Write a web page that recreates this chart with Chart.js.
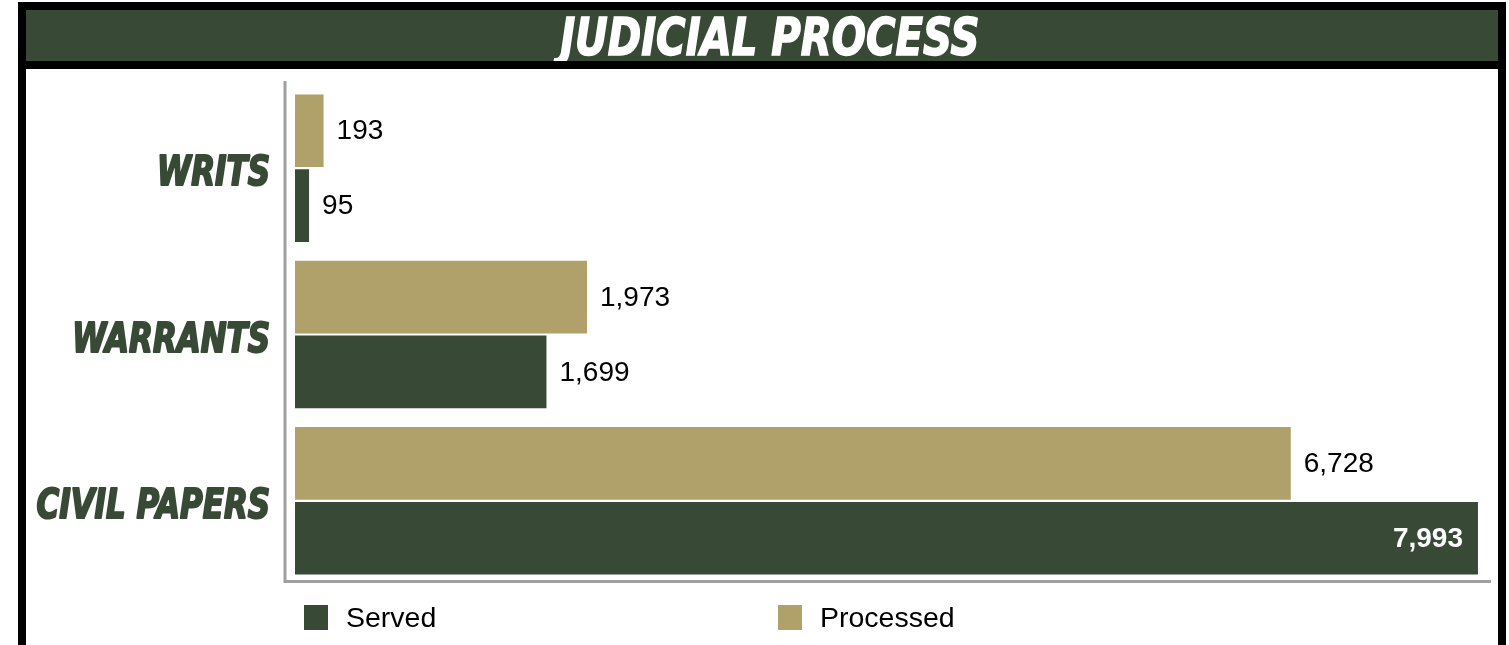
<!DOCTYPE html>
<html>
<head>
<meta charset="utf-8">
<title>Judicial Process</title>
<script src="https://cdn.jsdelivr.net/npm/chart.js@4/dist/chart.umd.min.js"></script>
<style>
    html, body {
        margin: 0;
        padding: 0;
        background: #ffffff;
        width: 1509px;
        height: 645px;
        overflow: hidden;
    }
    .frame {
        position: absolute;
        left: 18px;
        top: 2px;
        width: 1472px;
        height: 640px;
        border: 8px solid #000000;
        background: #ffffff;
    }
    .title-bar {
        height: 51px;
        background: #384a36;
        border-bottom: 8px solid #000000;
        text-align: center;
        overflow: hidden;
    }
    .title-bar span {
        display: inline-block;
        margin-left: 16px;
        color: #ffffff;
        font-family: 'DejaVu Sans Condensed', sans-serif;
        font-weight: bold;
        font-style: italic;
        font-size: 52px;
        line-height: 54px;
        -webkit-text-stroke: 1.5px #ffffff;
        transform: scaleX(0.86);
    }
    .chart-box {
        position: relative;
        width: 1472px;
        height: 573px;
    }
    .chart-box canvas {
        display: block;
    }
    .legend {
        position: absolute;
        left: 278px;
        top: 536px;
        display: flex;
        font-family: 'Liberation Sans', Arial, sans-serif;
        font-size: 28.5px;
        color: #000000;
    }
    .legend-item {
        width: 474px;
        height: 25px;
        line-height: 25px;
        display: flex;
        align-items: center;
    }
    .legend-box {
        width: 24px;
        height: 25px;
        margin-right: 18px;
    }
</style>
</head>
<body>
<div class="frame">
    <div class="title-bar"><span>JUDICIAL PROCESS</span></div>
    <div class="chart-box">
        <canvas id="judicialChart" width="1472" height="573"></canvas>
        <div class="legend" id="legend"></div>
    </div>
</div>

<script>
// Chart data
const categories = ['WRITS', 'WARRANTS', 'CIVIL PAPERS'];
const processedValues = [193, 1973, 6728];
const servedValues = [95, 1699, 7993];
const seriesLabels = ['Processed', 'Served'];
const seriesColors = ['#b0a06a', '#384a36'];

const labelGreen = '#384a36';
const axisGray = '#9f9f9f';

/**
 * Axis lines drawn slightly off the plot area, like in the original
 */
const axisLinesPlugin = {
    id: 'axisLines',
    beforeDatasetsDraw(chart) {
        const ctx = chart.ctx;
        const area = chart.chartArea;
        ctx.save();
        ctx.strokeStyle = axisGray;
        ctx.lineWidth = 3;
        ctx.beginPath();
        ctx.moveTo(area.left - 10, area.top - 4);
        ctx.lineTo(area.left - 10, area.bottom - 2.5);
        ctx.lineTo(area.right + 12, area.bottom - 2.5);
        ctx.stroke();
        ctx.restore();
    }
};

/**
 * Category labels: heavy, condensed, italic (squeezed horizontally)
 */
const categoryLabelsPlugin = {
    id: 'categoryLabels',
    afterDraw(chart) {
        const ctx = chart.ctx;
        const yScale = chart.scales.y;
        const right = chart.chartArea.left - 25;
        ctx.save();
        ctx.font = 'italic bold 40px "DejaVu Sans Condensed", sans-serif';
        ctx.fillStyle = labelGreen;
        ctx.strokeStyle = labelGreen;
        ctx.lineWidth = 2;
        ctx.lineJoin = 'round';
        ctx.textAlign = 'right';
        ctx.textBaseline = 'alphabetic';
        chart.data.labels.forEach((label, index) => {
            const y = yScale.getPixelForValue(index);
            ctx.save();
            ctx.translate(right, y + 17);
            ctx.scale(0.86, 1);
            ctx.fillText(label, 0, 0);
            ctx.strokeText(label, 0, 0);
            ctx.restore();
        });
        ctx.restore();
    }
};

/**
 * Value labels next to the bars (inside the bar when it does not fit)
 */
const valueLabelsPlugin = {
    id: 'valueLabels',
    afterDatasetsDraw(chart) {
        const ctx = chart.ctx;
        ctx.save();
        ctx.textBaseline = 'middle';
        chart.data.datasets.forEach((dataset, i) => {
            const meta = chart.getDatasetMeta(i);
            meta.data.forEach((bar, index) => {
                const text = dataset.data[index].toLocaleString('en-US');
                ctx.font = '28px "Liberation Sans", Arial, sans-serif';
                const width = ctx.measureText(text).width;
                if (bar.x + 14 + width > chart.width) {
                    ctx.font = 'bold 28px "Liberation Sans", Arial, sans-serif';
                    ctx.fillStyle = '#ffffff';
                    ctx.textAlign = 'right';
                    ctx.fillText(text, bar.x - 15, bar.y + 1);
                } else {
                    ctx.fillStyle = '#000000';
                    ctx.textAlign = 'left';
                    ctx.fillText(text, bar.x + 13, bar.y + 1);
                }
            });
        });
        ctx.restore();
    }
};

document.addEventListener('DOMContentLoaded', function() {
    const ctx = document.getElementById('judicialChart').getContext('2d');

    const chart = new Chart(ctx, {
        type: 'bar',
        data: {
            labels: categories,
            datasets: [{
                label: seriesLabels[0],
                data: processedValues,
                backgroundColor: seriesColors[0]
            }, {
                label: seriesLabels[1],
                data: servedValues,
                backgroundColor: seriesColors[1]
            }]
        },
        options: {
            indexAxis: 'y',
            responsive: false,
            animation: false,
            categoryPercentage: 0.9,
            barPercentage: 0.97,
            layout: {
                padding: { left: 0, top: 16, right: 19, bottom: 58 }
            },
            plugins: {
                legend: { display: false },
                title: { display: false },
                tooltip: { enabled: false }
            },
            scales: {
                x: {
                    display: false,
                    min: 0,
                    max: 8000
                },
                y: {
                    grid: { display: false, drawTicks: false },
                    border: { display: false },
                    ticks: { display: false },
                    afterFit: function(scale) {
                        scale.width = 269;
                    }
                }
            }
        },
        plugins: [axisLinesPlugin, valueLabelsPlugin, categoryLabelsPlugin]
    });

    // Legend in the original order: Served, then Processed
    const legend = document.getElementById('legend');
    chart.data.datasets.slice().reverse().forEach(dataset => {
        const item = document.createElement('div');
        item.className = 'legend-item';
        item.innerHTML = '<span class="legend-box" style="background:' + dataset.backgroundColor + '"></span>' + dataset.label;
        legend.appendChild(item);
    });
});
</script>
</body>
</html>
